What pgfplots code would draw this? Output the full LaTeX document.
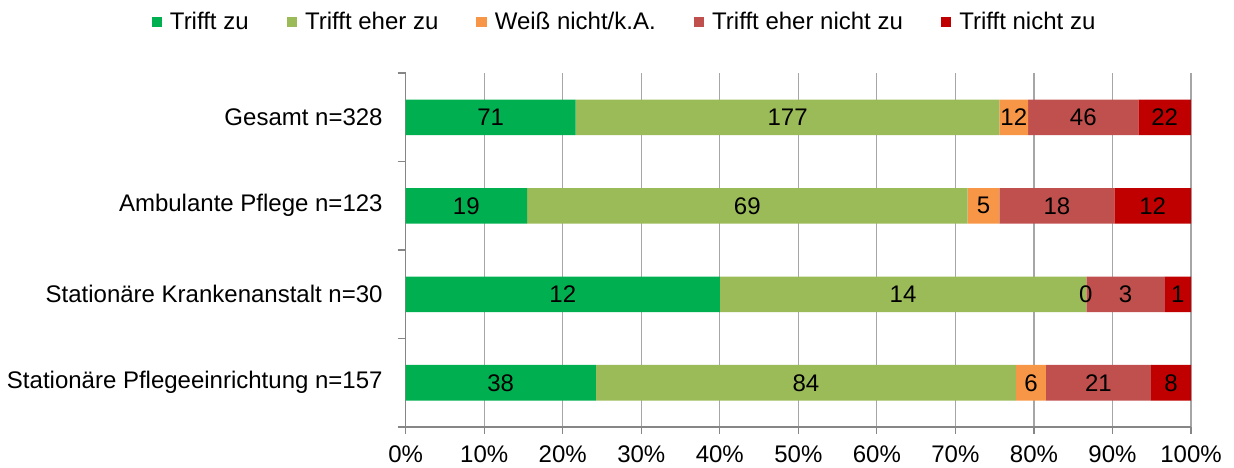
\documentclass[border=0pt]{standalone}
\usepackage{pgfplots}
\pgfplotsset{compat=1.18}
\usepackage{fontspec}
\setmainfont{Liberation Sans}
\definecolor{cA}{HTML}{00B050}
\definecolor{cB}{HTML}{9BBB59}
\definecolor{cC}{HTML}{F79646}
\definecolor{cD}{HTML}{C0504D}
\definecolor{cE}{HTML}{C00000}
\definecolor{axisgray}{HTML}{868686}
\definecolor{gridgray}{HTML}{A6A6A6}
\newcommand{\chartfont}{\fontsize{12bp}{14bp}\selectfont}
\begin{document}
\begin{tikzpicture}
\useasboundingbox (-202.85bp,-20.5bp) rectangle (414.15bp,213.5bp);
\pgfplotsset{
  common/.style={
    width=392.65bp, height=177bp, scale only axis,
    at={(0,0)}, anchor=south west,
    xmin=0, xmax=100, ymin=-0.5, ymax=3.5,
  },
  sq/.style={legend image code/.code={\fill[##1] (0bp,-2.6bp) rectangle (5.2bp,2.6bp);}},
}
\begin{axis}[
  common,
  xbar stacked,
  bar width=17.75bp,
  axis x line*=bottom, axis y line*=left,
  axis line style={draw=axisgray, line width=0.6bp},
  xtick={0,10,...,100},
  xticklabels={0\%,10\%,20\%,30\%,40\%,50\%,60\%,70\%,80\%,90\%,100\%},
  ytick={0,1,2,3},
  yticklabels={Stationäre Pflegeeinrichtung n=157, Stationäre Krankenanstalt n=30, Ambulante Pflege n=123, Gesamt n=328},
  minor ytick={-0.5,0.5,1.5,2.5,3.5},
  major y tick style={draw=none},
  minor y tick style={draw=axisgray, line width=0.6bp},
  minor tick length=4bp,
  major tick length=3.5bp,
  tick align=outside,
  xtick style={draw=axisgray, line width=0.6bp},
  xmajorgrids,
  major grid style={draw=gridgray, line width=0.6bp},
  tick label style={font=\chartfont, text=black},
  xticklabel style={inner sep=0pt, anchor=north, yshift=-5.5bp},
  yticklabel style={inner sep=0pt, anchor=east, xshift=-7.85bp},
  legend columns=5,
  legend style={draw=none, fill=none, at={(0.2786,1.144)}, anchor=center,
    font=\chartfont, legend cell align=left,
    nodes={inner sep=1bp},
    /tikz/every odd column/.append style={column sep=3bp},
    /tikz/every even column/.append style={column sep=18bp}},
]
\addplot[fill=cA, draw=none, sq] coordinates {(21.646,3) (15.447,2) (40,1) (24.204,0)};
\addplot[fill=cB, draw=none, sq] coordinates {(53.963,3) (56.098,2) (46.667,1) (53.503,0)};
\addplot[fill=cC, draw=none, sq] coordinates {(3.659,3) (4.065,2) (0,1) (3.822,0)};
\addplot[fill=cD, draw=none, sq] coordinates {(14.024,3) (14.634,2) (10,1) (13.376,0)};
\addplot[fill=cE, draw=none, sq] coordinates {(6.707,3) (9.756,2) (3.333,1) (5.096,0)};
\legend{Trifft zu, Trifft eher zu, Weiß nicht/k.A., Trifft eher nicht zu, Trifft nicht zu}
\end{axis}
\begin{axis}[common, hide axis, clip=false]
\addplot[only marks, mark=none, nodes near coords, point meta=explicit symbolic,
  every node near coord/.append style={font=\chartfont, anchor=center, inner sep=0pt, text=black}]
coordinates {
 (10.82,3) [71] (48.63,3) [177] (77.44,3) [12] (86.28,3) [46] (96.65,3) [22]
 (7.72,2) [19] (43.50,2) [69] (73.58,2) [5] (82.93,2) [18] (95.12,2) [12]
 (20.00,1) [12] (63.33,1) [14] (86.60,1) [0] (91.67,1) [3] (98.33,1) [1]
 (12.10,0) [38] (50.96,0) [84] (79.62,0) [6] (88.22,0) [21] (97.45,0) [8]
};
\end{axis}
\end{tikzpicture}
\end{document}
